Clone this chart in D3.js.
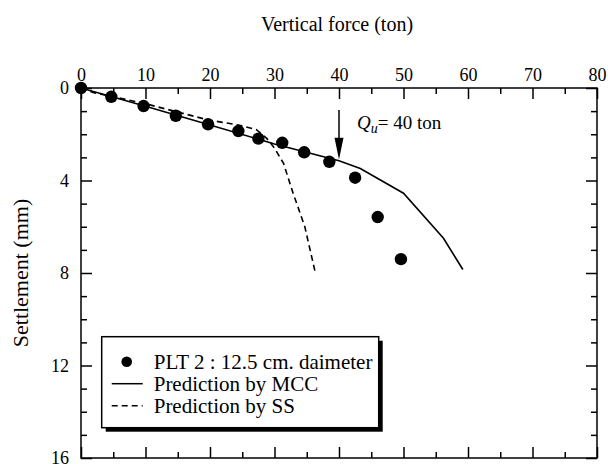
<!DOCTYPE html>
<html>
<head>
<meta charset="utf-8">
<script src="https://cdn.jsdelivr.net/npm/d3@7"></script>
<style>
	body { margin: 0; background: #fff; }
	svg text { font-family: "Liberation Serif", "Times New Roman", serif; fill: #000; }
</style>
</head>
<body>
<svg id="chart" width="608" height="464"></svg>
<script>
// measured load test PLT 2
var force = [0, 4.7, 9.7, 14.7, 19.7, 24.4, 27.5, 31.2, 34.6, 38.5, 42.5, 46.0, 49.6];
var settlement = [0, 0.38, 0.78, 1.2, 1.57, 1.86, 2.19, 2.37, 2.78, 3.19, 3.88, 5.58, 7.4];

// prediction by MCC
var mccForce = [0, 10, 20, 30, 40, 43.3, 50, 56.2, 59.2];
var mccSettlement = [0, 0.79, 1.6, 2.42, 3.15, 3.48, 4.55, 6.5, 7.85];

// prediction by SS
var ssForce = [0, 2, 9.7, 19.7, 24.4, 27.2, 28.8, 30, 31.4, 32.9, 34.7, 36.3];
var ssSettlement = [0, 0.2, 0.66, 1.38, 1.6, 1.8, 2.18, 2.6, 3.26, 4.56, 6.0, 7.95];

var xMajor = [0, 10, 20, 30, 40, 50, 60, 70, 80];
var xMinor = [5, 15, 25, 35, 45, 55, 65, 75];
var yMajor = [0, 4, 8, 12, 16];
var yMinor = [1, 2, 3, 5, 6, 7, 9, 10, 11, 13, 14, 15];

var legendLabels = ["PLT 2 : 12.5 cm. daimeter", "Prediction by MCC", "Prediction by SS"];

var svg = d3.select("#chart"),
	margin = {
		top: 88,
		right: 11,
		bottom: 6,
		left: 81
	},
	width = 608 - margin.left - margin.right,
	height = 464 - margin.top - margin.bottom;

var x = d3.scaleLinear().domain([0, 80]).range([0, width]);
var y = d3.scaleLinear().domain([0, 16]).range([0, height]);

var g = svg.append("g")
	.attr("transform", "translate(" + margin.left + "," + margin.top + ")");

// axes, ticks inward on all four sides
function addAxis(axis, tx, ty, values, size, labels) {
	var a = g.append("g")
		.attr("transform", "translate(" + tx + "," + ty + ")")
		.call(axis.tickValues(values).tickSize(-size).tickSizeOuter(0).tickPadding(labels ? 7 : 0)
			.tickFormat(labels ? d3.format("d") : ""));
	a.select(".domain").remove();
	a.selectAll(".tick line").attr("stroke", "#000").attr("stroke-width", 1.5);
	a.selectAll(".tick text").style("font-size", "18px").attr("fill", "#000");
	return a;
}

addAxis(d3.axisTop(x), 0, 0, xMajor, 11, true);
addAxis(d3.axisTop(x), 0, 0, xMinor, 6, false);
addAxis(d3.axisBottom(x), 0, height, xMajor, 11, false);
addAxis(d3.axisBottom(x), 0, height, xMinor, 6, false);
addAxis(d3.axisLeft(y), 0, 0, yMajor, 11, true).selectAll(".tick text").attr("x", -12);
addAxis(d3.axisLeft(y), 0, 0, yMinor, 6, false);
addAxis(d3.axisRight(y), width, 0, yMajor, 11, false);
addAxis(d3.axisRight(y), width, 0, yMinor, 6, false);

g.append("rect")
	.attr("width", width)
	.attr("height", height)
	.attr("fill", "none")
	.attr("stroke", "#000")
	.attr("stroke-width", 1.5);

var line = d3.line()
	.x(function (d) { return x(d[0]); })
	.y(function (d) { return y(d[1]); });

g.append("path")
	.datum(d3.zip(mccForce, mccSettlement))
	.attr("d", line)
	.attr("fill", "none")
	.attr("stroke", "#000")
	.attr("stroke-width", 1.6);

g.append("path")
	.datum(d3.zip(ssForce, ssSettlement))
	.attr("d", line)
	.attr("fill", "none")
	.attr("stroke", "#000")
	.attr("stroke-width", 1.6)
	.attr("stroke-dasharray", "6,4");

g.selectAll(".pt")
	.data(d3.zip(force, settlement))
	.enter()
	.append("circle")
	.attr("class", "pt")
	.attr("cx", function (d) { return x(d[0]); })
	.attr("cy", function (d) { return y(d[1]); })
	.attr("r", 6.2)
	.attr("fill", "#000");

// Qu arrow
var qu = 40;
g.append("line")
	.attr("x1", x(qu)).attr("x2", x(qu))
	.attr("y1", y(0.95)).attr("y2", y(2.3))
	.attr("stroke", "#000")
	.attr("stroke-width", 1.5);
g.append("path")
	.attr("d", "M" + (x(qu) - 4.5) + "," + y(2.15) + "L" + (x(qu) + 4.5) + "," + y(2.15) + "L" + x(qu) + "," + y(3.09) + "Z")
	.attr("fill", "#000");

var qt = g.append("text")
	.attr("x", x(qu) + 18)
	.attr("y", y(1.77))
	.style("font-size", "19px");
qt.append("tspan").attr("font-style", "italic").text("Q");
qt.append("tspan").attr("font-style", "italic").attr("dy", 4).style("font-size", "14px").text("u");
qt.append("tspan").attr("dy", -4).text("= " + qu + " ton");

// axis titles
svg.append("text")
	.attr("x", margin.left + width / 2 - 2)
	.attr("y", 31)
	.attr("text-anchor", "middle")
	.style("font-size", "20px")
	.text("Vertical force (ton)");

svg.append("text")
	.attr("transform", "translate(28," + (margin.top + height / 2) + ") rotate(-90)")
	.attr("text-anchor", "middle")
	.style("font-size", "22px")
	.text("Settlement (mm)");

// legend
var lg = g.append("g").attr("transform", "translate(" + (101.7 - margin.left) + "," + (336.7 - margin.top) + ")");
var lw = 277, lh = 91;
lg.append("rect").attr("x", 4).attr("y", 4).attr("width", lw).attr("height", lh).attr("fill", "#000");
lg.append("rect").attr("width", lw).attr("height", lh).attr("fill", "#fff").attr("stroke", "#000").attr("stroke-width", 1.5);

var rows = lg.selectAll(".row")
	.data(legendLabels)
	.enter()
	.append("g")
	.attr("class", "row")
	.attr("transform", function (d, i) { return "translate(0," + (25 + i * 22) + ")"; });

rows.append("text")
	.attr("x", 52)
	.attr("dy", "0.35em")
	.style("font-size", "21px")
	.text(function (d) { return d; });

lg.append("circle").attr("cx", 25).attr("cy", 25).attr("r", 5.3).attr("fill", "#000");
lg.append("line").attr("x1", 10).attr("x2", 41).attr("y1", 47).attr("y2", 47).attr("stroke", "#000").attr("stroke-width", 1.5);
lg.append("line").attr("x1", 10).attr("x2", 41).attr("y1", 69).attr("y2", 69).attr("stroke", "#000").attr("stroke-width", 1.5).attr("stroke-dasharray", "6,4");
</script>
</body>
</html>
